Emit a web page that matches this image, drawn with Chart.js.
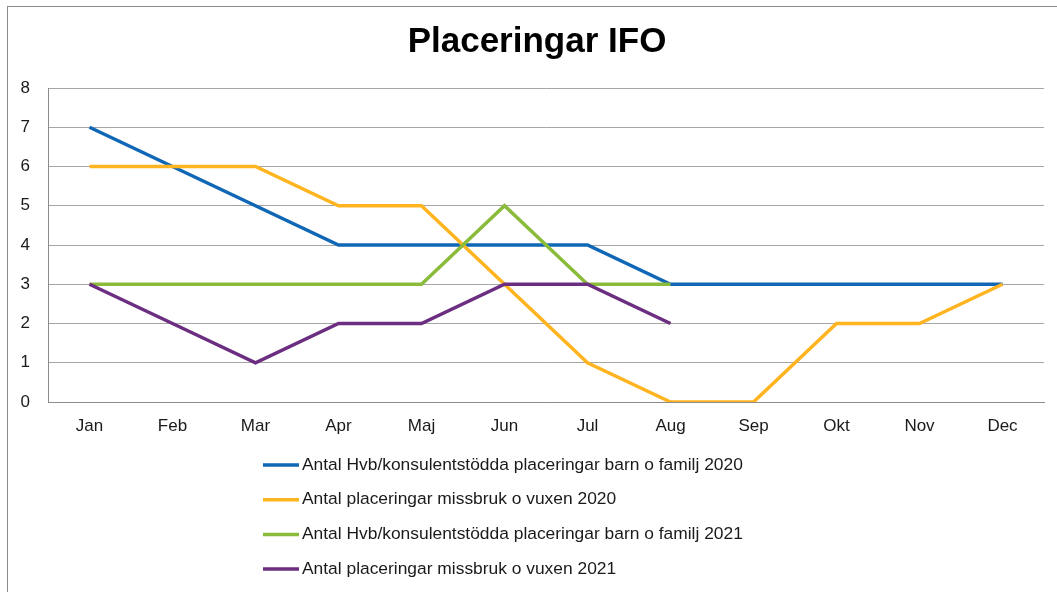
<!DOCTYPE html>
<html>
<head>
<meta charset="utf-8">
<script src="https://cdn.jsdelivr.net/npm/chart.js@4/dist/chart.umd.min.js"></script>
<style>
    html, body { margin: 0; padding: 0; background: #fff; }
    #wrap { position: relative; width: 1057px; height: 592px; overflow: hidden; }
    #frame { position: absolute; left: 7px; top: 6px; width: 1100px; height: 640px; border: 1px solid #8c8c8c; box-sizing: border-box; }
    #canvasline { position: absolute; left: 0; top: 0; }
</style>
</head>
<body>
<div id="wrap">
    <div id="frame"></div>
    <canvas id="canvasline" width="1057" height="592"></canvas>
</div>
<script>
    "use strict";
    var chartTitle = 'Placeringar IFO';
    var months = ['Jan', 'Feb', 'Mar', 'Apr', 'Maj', 'Jun', 'Jul', 'Aug', 'Sep', 'Okt', 'Nov', 'Dec'];
    var hvb2020 = [7, 6, 5, 4, 4, 4, 4, 3, 3, 3, 3, 3];
    var missbruk2020 = [6, 6, 6, 5, 5, 3, 1, 0, 0, 2, 2, 3];
    var hvb2021 = [3, 3, 3, 3, 3, 5, 3, 3, null, null, null, null];
    var missbruk2021 = [3, 2, 1, 2, 2, 3, 3, 2, null, null, null, null];
    var yTicks = [0, 1, 2, 3, 4, 5, 6, 7, 8];

    var series = [
        {label: 'Antal Hvb/konsulentstödda placeringar barn o familj 2020', data: hvb2020, color: '#0f67b5'},
        {label: 'Antal placeringar missbruk o vuxen 2020', data: missbruk2020, color: '#ffb420'},
        {label: 'Antal Hvb/konsulentstödda placeringar barn o familj 2021', data: hvb2021, color: '#8bbb3b'},
        {label: 'Antal placeringar missbruk o vuxen 2021', data: missbruk2021, color: '#6b2e80'}
    ];

    var FONT = '"Liberation Sans", Arial, sans-serif';

    // title centred on the frame, legend as a plain vertical list under the plot
    var frameText = {
        id: 'frameText',
        afterDraw: function(chart) {
            var ctx = chart.ctx;
            ctx.save();
            ctx.fillStyle = '#000';
            ctx.font = 'bold 35px ' + FONT;
            ctx.textAlign = 'center';
            ctx.textBaseline = 'middle';
            ctx.fillText(chartTitle, 537, 42);

            ctx.font = '17.4px ' + FONT;
            ctx.textAlign = 'left';
            chart.data.datasets.forEach(function(ds, i) {
                var y = 465 + i * 34.7;
                ctx.strokeStyle = ds.borderColor;
                ctx.lineWidth = 3.5;
                ctx.beginPath();
                ctx.moveTo(263, y);
                ctx.lineTo(299, y);
                ctx.stroke();
                ctx.fillStyle = '#1a1a1a';
                ctx.fillText(ds.label, 302, y);
            });
            ctx.restore();
        }
    };

    var datasets = series.map(function(s, i) {
        return {
            label: s.label,
            data: s.data,
            borderColor: s.color,
            backgroundColor: s.color,
            borderWidth: 3.5,
            pointRadius: 0,
            tension: 0,
            fill: false,
            spanGaps: false,
            order: series.length - i // later series sit on top
        };
    });

    new Chart(document.getElementById('canvasline'), {
        type: 'line',
        data: {labels: months, datasets: datasets},
        plugins: [frameText],
        options: {
            responsive: false,
            animation: false,
            layout: {padding: {left: 8, right: 13, top: 88, bottom: 150}},
            plugins: {
                legend: {display: false},
                tooltip: {enabled: false},
                title: {display: false}
            },
            scales: {
                x: {
                    offset: true,
                    grid: {display: false, drawTicks: false},
                    border: {display: true, color: '#8c8c8c', width: 1},
                    ticks: {color: '#1a1a1a', padding: 14, maxRotation: 0,
                        font: {family: FONT, size: 17}},
                    afterFit: function(scale) { scale.height = 40; }
                },
                y: {
                    min: 0,
                    max: 8,
                    afterBuildTicks: function(scale) {
                        scale.ticks = yTicks.map(function(v) { return {value: v}; });
                    },
                    grid: {color: '#a6a6a6', lineWidth: 1, drawTicks: false},
                    border: {display: true, color: '#8c8c8c', width: 1},
                    ticks: {color: '#1a1a1a', padding: 18,
                        font: {family: FONT, size: 17}},
                    afterFit: function(scale) { scale.width = 40; }
                }
            }
        }
    });
</script>
</body>
</html>
